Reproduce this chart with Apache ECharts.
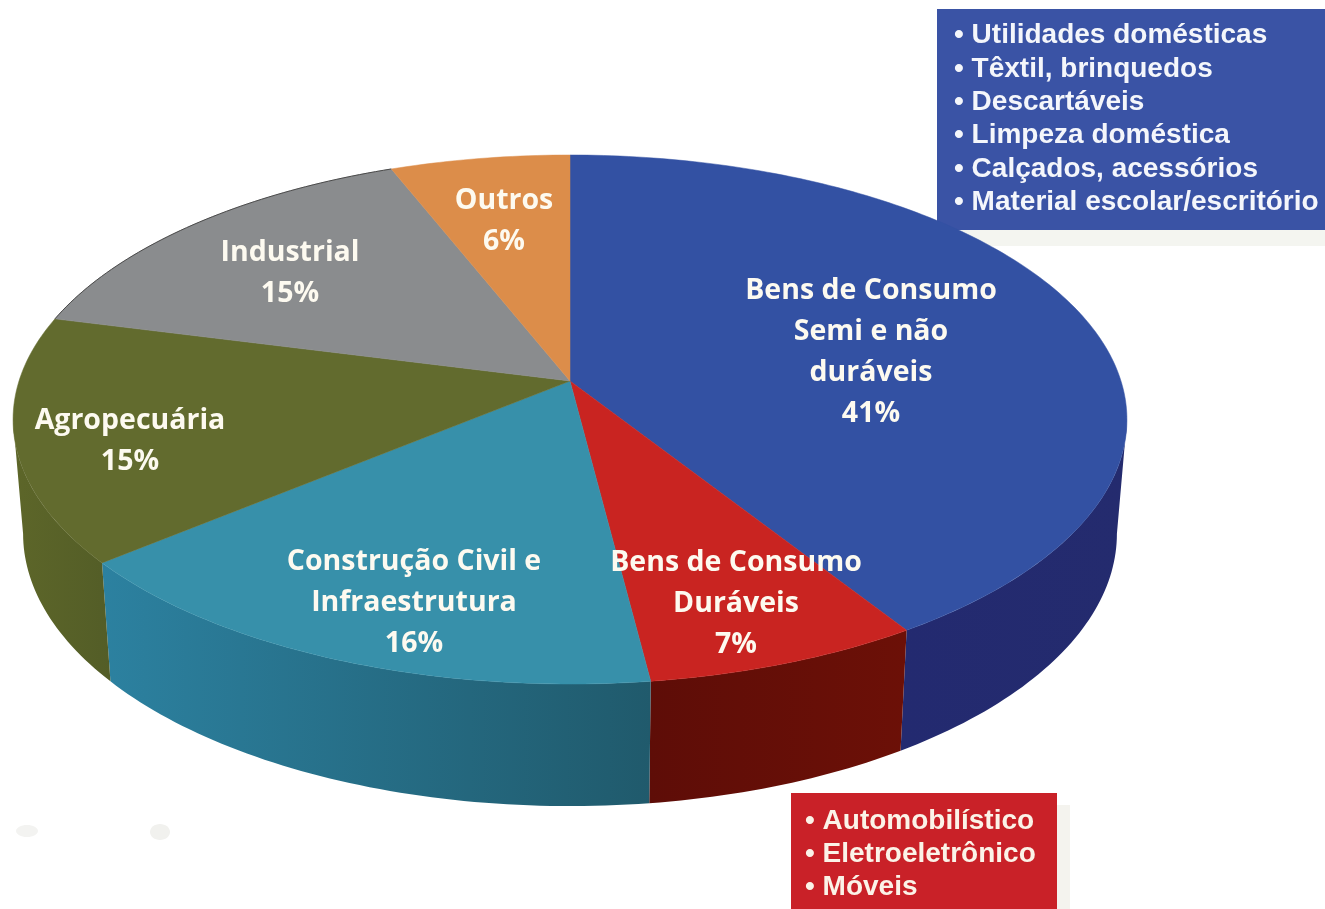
<!DOCTYPE html>
<html>
<head>
<meta charset="utf-8">
<title>Setores</title>
<style>
  html, body { margin: 0; padding: 0; background: #fff; }
  #chart { width: 1325px; height: 909px; }
</style>
<script src="https://cdn.jsdelivr.net/npm/echarts@6/dist/echarts.min.js"></script>
</head>
<body>
<div id="chart"></div>
<script>
// fatias no sentido horario a partir do topo
var sliceNames = ['Bens de Consumo\nSemi e não\nduráveis', 'Bens de Consumo\nDuráveis', 'Construção Civil e\nInfraestrutura', 'Agropecuária', 'Industrial', 'Outros'];
var sliceValues = [41, 7, 16, 15, 15, 6];
var blueItems = ['Utilidades domésticas', 'Têxtil, brinquedos', 'Descartáveis', 'Limpeza doméstica', 'Calçados, acessórios', 'Material escolar/escritório'];
var redItems = ['Automobilístico', 'Eletroeletrônico', 'Móveis'];

var topColors = ['#3351a3', '#c92421', '#3790aa', '#626b2e', '#8a8c8e', '#dc8d4a'];
var wallColors = [
  ['#232a70', '#242b6e'],
  ['#5e0d07', '#6c1007'],
  ['#2c81a0', '#205a6c'],
  ['#5d6629', '#535d27'],
  ['#6a6c6e', '#6a6c6e'],
  ['#a86a36', '#a86a36']
];
// linha escura so na borda de tras da fatia cinza
var rimColors = [null, null, null, null, '#4a4a4a', null];
// centro dos rotulos, em pixels da pagina
var labelCenters = [[871, 352], [736, 604], [414, 603], [130, 441], [290, 273], [504, 221]];

var total = sliceValues.reduce(function (a, b) { return a + b; }, 0);

// perspectiva do disco: topo (level 0) e base (level 1)
function project(deg, level) {
  var a = deg * Math.PI / 180;
  var u = Math.sin(a), v = -Math.cos(a);
  var d = 1 - 0.1456 * v;
  var x = 551 * u / d, y = 258.9 * v / d;
  if (level) return [570 + x * 0.982, 381 + 113 + y * 1.03];
  return [570 + x, 381 + y];
}

function sliceRange(index) {
  var before = 0;
  for (var i = 0; i < index; i++) before += sliceValues[i];
  return [before / total * 360, (before + sliceValues[index]) / total * 360];
}

function arc(from, to, level) {
  var pts = [];
  var n = Math.ceil(Math.abs(to - from));
  for (var i = 0; i <= n; i++) pts.push(project(from + (to - from) * i / n, level));
  return pts;
}

function renderWall(params) {
  var r = sliceRange(params.dataIndex);
  // so a parte da frente do disco tem parede visivel
  var from = Math.max(r[0], 98.4), to = Math.min(r[1], 261.6);
  if (from >= to) return null;
  var c = wallColors[params.dataIndex];
  return {
    type: 'polygon',
    shape: { points: arc(from, to, 0).concat(arc(to, from, 1)) },
    style: { fill: new echarts.graphic.LinearGradient(0, 0, 1, 0, [{ offset: 0, color: c[0] }, { offset: 1, color: c[1] }]) }
  };
}

function renderTop(params) {
  var i = params.dataIndex;
  var r = sliceRange(i);
  var children = [{
    type: 'polygon',
    shape: { points: [[570, 381]].concat(arc(r[0], r[1], 0)) },
    style: { fill: topColors[i], stroke: topColors[i], lineWidth: 0.5 }
  }];
  if (rimColors[i]) {
    children.push({
      type: 'polyline',
      shape: { points: arc(r[0], r[1], 0) },
      style: { fill: null, stroke: rimColors[i], lineWidth: 1 }
    });
  }
  return { type: 'group', children: children };
}

function renderLabel(params) {
  var i = params.dataIndex;
  return {
    type: 'text',
    style: {
      x: labelCenters[i][0],
      y: labelCenters[i][1],
      text: sliceNames[i] + '\n' + sliceValues[i] + '%',
      fill: '#fdfaf0',
      font: 'bold 28.5px "Open Sans"',
      lineHeight: 41,
      align: 'center',
      verticalAlign: 'middle'
    }
  };
}

function bullets(list) {
  return list.map(function (s) { return '• ' + s; }).join('\n');
}

var chart = echarts.init(document.getElementById('chart'));
chart.setOption({
  animation: false,
  backgroundColor: '#ffffff',
  graphic: [
    { type: 'rect', shape: { x: 945, y: 18, width: 380, height: 228 }, style: { fill: '#f4f5f0' } },
    { type: 'rect', shape: { x: 937, y: 9, width: 388, height: 221 }, style: { fill: '#3a53a5' } },
    { type: 'text', style: { x: 954, y: 119, text: bullets(blueItems), fill: '#f4f6fb', font: 'bold 28px "Liberation Sans"', lineHeight: 33.4, verticalAlign: 'middle' } },
    { type: 'rect', shape: { x: 800, y: 805, width: 270, height: 104 }, style: { fill: '#f4f3ee' } },
    { type: 'rect', shape: { x: 791, y: 793, width: 266, height: 116 }, style: { fill: '#c92128' } },
    { type: 'text', style: { x: 805, y: 854, text: bullets(redItems), fill: '#fbf3e8', font: 'bold 28px "Liberation Sans"', lineHeight: 33, verticalAlign: 'middle' } },
    { type: 'ellipse', shape: { cx: 27, cy: 831, rx: 11, ry: 6 }, style: { fill: '#f3f3f1' } },
    { type: 'ellipse', shape: { cx: 160, cy: 832, rx: 10, ry: 8 }, style: { fill: '#f1f1ee' } }
  ],
  series: [
    { type: 'custom', coordinateSystem: 'none', z: 2, silent: true, data: sliceValues, renderItem: renderWall },
    { type: 'custom', coordinateSystem: 'none', z: 3, silent: true, data: sliceValues, renderItem: renderTop },
    { type: 'custom', coordinateSystem: 'none', z: 4, silent: true, data: sliceValues, renderItem: renderLabel }
  ]
});
</script>
</body>
</html>
